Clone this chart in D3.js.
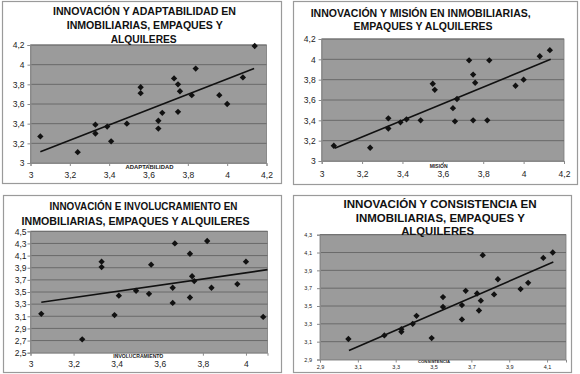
<!DOCTYPE html>
<html><head><meta charset="utf-8">
<script src="https://cdn.jsdelivr.net/npm/d3@7"></script>
<style>
html,body{margin:0;padding:0;background:#fff;}
svg{display:block;}
text{font-family:"Liberation Sans",Arial,sans-serif;}
</style></head>
<body>
<svg id="c" width="580" height="374"></svg>
<script>
// ---------- DATA ----------
const adaptX = [3.05,3.24,3.33,3.33,3.39,3.41,3.49,3.56,3.56,3.65,3.65,3.67,3.73,3.75,3.75,3.76,3.82,3.84,3.96,4.00,4.08,4.14];
const adaptY = [3.27,3.11,3.39,3.30,3.37,3.22,3.40,3.77,3.71,3.43,3.35,3.51,3.86,3.80,3.52,3.73,3.69,3.96,3.69,3.60,3.87,4.19];
const adaptTrend = [[3.05,3.114],[4.137,3.962]];

const misionX = [3.06,3.24,3.33,3.33,3.39,3.42,3.49,3.55,3.56,3.65,3.66,3.67,3.73,3.75,3.75,3.76,3.82,3.83,3.96,4.00,4.08,4.13];
const misionY = [3.15,3.13,3.42,3.32,3.38,3.41,3.40,3.76,3.70,3.52,3.39,3.61,3.99,3.85,3.40,3.77,3.40,3.99,3.74,3.80,4.03,4.09];
const misionTrend = [[3.064,3.125],[4.134,4.00]];

const involX = [3.05,3.24,3.33,3.33,3.39,3.41,3.49,3.55,3.56,3.66,3.66,3.67,3.74,3.74,3.75,3.76,3.82,3.84,3.96,4.00,4.08];
const involY = [3.14,2.72,4.00,3.91,3.12,3.44,3.52,3.47,3.95,3.57,3.32,4.30,4.13,3.41,3.76,3.68,4.34,3.57,3.63,4.00,3.09];
const involTrend = [[3.05,3.33],[4.10,3.868]];

const consisX = [3.05,3.24,3.33,3.33,3.39,3.41,3.49,3.55,3.55,3.65,3.65,3.67,3.73,3.74,3.75,3.76,3.82,3.84,3.96,4.00,4.08,4.13];
const consisY = [3.13,3.17,3.24,3.21,3.30,3.39,3.14,3.60,3.49,3.51,3.35,3.67,3.64,3.45,3.56,4.07,3.63,3.80,3.69,3.76,4.04,4.10];
const consisTrend = [[3.053,3.00],[4.133,3.994]];

const ticks3to42 = [3,3.2,3.4,3.6,3.8,4,4.2];
const ticks3to4 = [3,3.2,3.4,3.6,3.8,4];
const ticksInvolY = [2.5,2.7,2.9,3.1,3.3,3.5,3.7,3.9,4.1,4.3,4.5];
const ticksConsis = [2.9,3.1,3.3,3.5,3.7,3.9,4.1,4.3];
const ticksConsisX = [2.9,3.1,3.3,3.5,3.7,3.9,4.1];

const titles = {
  adapt: ["INNOVACIÓN Y ADAPTABILIDAD EN","INMOBILIARIAS, EMPAQUES Y","ALQUILERES"],
  mision: ["INNOVACIÓN Y MISIÓN EN INMOBILIARIAS,","EMPAQUES Y ALQUILERES"],
  invol: ["INNOVACIÓN E INVOLUCRAMIENTO EN","INMOBILIARIAS, EMPAQUES Y ALQUILERES"],
  consis: ["INNOVACIÓN Y CONSISTENCIA EN","INMOBILIARIAS, EMPAQUES Y","ALQUILERES"]
};
const xTitles = {adapt:"ADAPTABILIDAD", mision:"MISIÓN", invol:"INVOLUCRAMIENTO", consis:"CONSISTENCIA"};

// ---------- DRAW ----------
const svg = d3.select("#c");
const fmt = v => String(+v.toFixed(2)).replace(".", ",");

function panel(o){
  const g = svg.append("g");
  g.append("rect").attr("x",o.frame[0]+0.5).attr("y",o.frame[1]+0.5)
   .attr("width",o.frame[2]-o.frame[0]).attr("height",o.frame[3]-o.frame[1])
   .attr("fill","#fff").attr("stroke","#9a9a9a").attr("stroke-width",1.2);

  const x = d3.scaleLinear().domain(o.xDom).range(o.xR);
  const y = d3.scaleLinear().domain(o.yDom).range(o.yR);

  g.append("rect").attr("x",o.xR[0]).attr("y",o.yR[1])
   .attr("width",o.xR[1]-o.xR[0]).attr("height",o.yR[0]-o.yR[1])
   .attr("fill","#9b9b9b").attr("stroke","#7a7a7a").attr("stroke-width",0.8);

  g.append("g").selectAll("line").data(o.yTicks.filter(t=>t>o.yDom[0] && t<o.yDom[1]+1e-9)).join("line")
   .attr("x1",o.xR[0]).attr("x2",o.xR[1])
   .attr("y1",d=>y(d)).attr("y2",d=>y(d))
   .attr("stroke","#6a6a6a").attr("stroke-width",1);

  const ax = d3.axisBottom(x).tickValues(o.xTicks).tickSize(3).tickFormat(fmt);
  const gx = g.append("g").attr("transform",`translate(0,${o.yR[0]})`).call(ax);
  gx.select(".domain").attr("stroke","#8a8a8a");
  gx.selectAll(".tick line").attr("stroke","#8a8a8a");
  gx.selectAll(".tick text").attr("font-size",o.tickFs).attr("fill","#222")
    .attr("font-family","Liberation Sans, Arial, sans-serif").attr("y",o.xLabDy).attr("dy","0.35em");

  const ay = d3.axisLeft(y).tickValues(o.yTicks).tickSize(3).tickFormat(fmt);
  const gy = g.append("g").attr("transform",`translate(${o.xR[0]},0)`).call(ay);
  gy.select(".domain").attr("stroke","#8a8a8a");
  gy.selectAll(".tick line").attr("stroke","#8a8a8a");
  gy.selectAll(".tick text").attr("font-size",o.tickFs).attr("fill","#222")
    .attr("font-family","Liberation Sans, Arial, sans-serif").attr("x",-o.yLabDx);

  g.append("line")
   .attr("x1",x(o.trend[0][0])).attr("y1",y(o.trend[0][1]))
   .attr("x2",x(o.trend[1][0])).attr("y2",y(o.trend[1][1]))
   .attr("stroke","#111").attr("stroke-width",1.6);

  const pts = o.xs.map((v,i)=>[v,o.ys[i]]);
  g.append("g").selectAll("path").data(pts).join("path")
   .attr("d",d3.symbol(d3.symbolSquare,o.sym))
   .attr("transform",d=>`translate(${x(d[0])},${y(d[1])}) rotate(45)`)
   .attr("fill","#111");

  g.append("text").attr("x",o.xt[0]).attr("y",o.xt[1]).attr("text-anchor","middle")
   .attr("dominant-baseline","central").attr("font-size",o.xt[3]).attr("font-weight","bold")
   .attr("fill","#222").text(o.xTitle)
   .attr("textLength",o.xt[2]).attr("lengthAdjust","spacingAndGlyphs");

  o.title.forEach((t,i)=>{
    const L = o.tl[i];
    g.append("text").attr("x",L[0]).attr("y",L[1]).attr("text-anchor","middle")
     .attr("dominant-baseline","central").attr("font-size",o.titleFs).attr("font-weight","bold")
     .attr("fill","#111").text(t)
     .attr("textLength",L[2]).attr("lengthAdjust","spacingAndGlyphs");
  });
}

panel({frame:[2,1,281,183], xDom:[3,4.2], yDom:[3,4.2], xR:[30.5,266.5], yR:[163,45],
  xTicks:ticks3to42, yTicks:ticks3to42, tickFs:8.5, xLabDy:12, yLabDx:6,
  xs:adaptX, ys:adaptY, trend:adaptTrend, sym:20,
  xTitle:xTitles.adapt, xt:[149.5,167.3,48,5],
  title:titles.adapt, titleFs:10.5, tl:[[144.5,11,183],[144.7,25,156],[143.7,39,66]]});

panel({frame:[293,1,577,184], xDom:[3,4.2], yDom:[3,4.2], xR:[321.7,564], yR:[161,39],
  xTicks:ticks3to42, yTicks:ticks3to42, tickFs:8.5, xLabDy:13.5, yLabDx:6,
  xs:misionX, ys:misionY, trend:misionTrend, sym:20,
  xTitle:xTitles.mision, xt:[438.7,166,18,5.5],
  title:titles.mision, titleFs:10.5, tl:[[420.7,12.5,220],[423,26,139]]});

panel({frame:[3,195,281,372], xDom:[3,4.1], yDom:[2.5,4.5], xR:[30.5,267.5], yR:[352.7,231.3],
  xTicks:ticks3to4, yTicks:ticksInvolY, tickFs:8.5, xLabDy:11.5, yLabDx:4,
  xs:involX, ys:involY, trend:involTrend, sym:20,
  xTitle:xTitles.invol, xt:[138.3,356.5,50,4.6],
  title:titles.invol, titleFs:10.5, tl:[[143.5,206,188],[135.5,220.7,228]]});

panel({frame:[293,195,571,372], xDom:[2.9,4.2], yDom:[2.9,4.3], xR:[320,566], yR:[359.5,234.7],
  xTicks:ticksConsisX, yTicks:ticksConsis, tickFs:5.5, xLabDy:7.5, yLabDx:8,
  xs:consisX, ys:consisY, trend:consisTrend, sym:20,
  xTitle:xTitles.consis, xt:[434,362.3,32,3.6],
  title:titles.consis, titleFs:11, tl:[[440,203.7,193],[440.3,218,169],[437.7,230.5,73]]});
</script>
</body></html>
